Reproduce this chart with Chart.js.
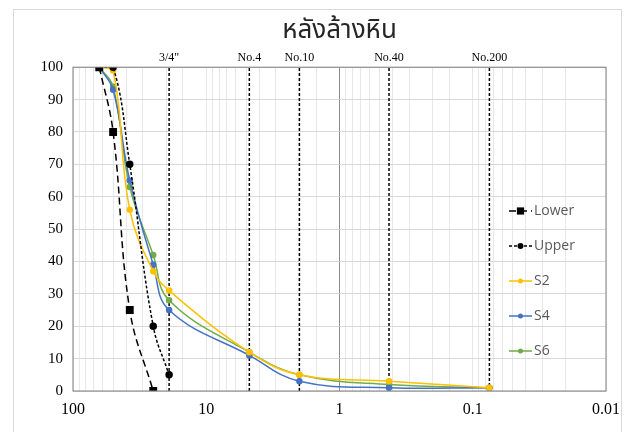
<!DOCTYPE html>
<html>
<head>
<meta charset="utf-8">
<script src="https://cdn.jsdelivr.net/npm/chart.js@4/dist/chart.umd.min.js"></script>
<style>
  html, body { margin: 0; padding: 0; background: #fff; }
  #wrap { width: 629px; height: 432px; }
</style>
</head>
<body>
<div id="wrap"><canvas id="chart" width="629" height="432"></canvas></div>
<script>
// sieve sizes (mm) used by the sample curves
const sizes = [63.5, 50, 37.5, 25, 19, 4.75, 2.0, 0.425, 0.075];
const s2 = [100, 99, 56, 37, 31, 12, 5, 3, 1];
const s4 = [100, 93, 65, 39, 25, 11, 3, 1, 1];
const s6 = [100, 94, 63, 42, 28, 12, 5, 2, 1];

// spec limits
const lowerSizes = [63.5, 50, 37.5, 25];
const lowerVals = [100, 80, 25, 0];
const upperSizes = [63.5, 50, 37.5, 25, 19];
const upperVals = [100, 100, 70, 20, 5];

// marker lines for standard sieves
const sieveMarks = [19, 4.75, 2.0, 0.425, 0.075];
const sieveNames = ['3/4"', 'No.4', 'No.10', 'No.40', 'No.200'];

const xTickValues = [100, 10, 1, 0.1, 0.01];
const xTickLabels = ['100', '10', '1', '0.1', '0.01'];

const toPts = (xs, ys) => xs.map((x, i) => ({ x: x, y: ys[i] }));

const datasets = [
  {
    label: 'Lower', data: toPts(lowerSizes, lowerVals),
    borderColor: '#000', backgroundColor: '#000', borderWidth: 1.5, borderDash: [7, 4],
    pointStyle: 'rect', pointRadius: 4.5, tension: 0.4
  },
  {
    label: 'Upper', data: toPts(upperSizes, upperVals),
    borderColor: '#000', backgroundColor: '#000', borderWidth: 1.5, borderDash: [3, 2],
    pointStyle: 'circle', pointRadius: 3, tension: 0.4
  },
  {
    label: 'S2', data: toPts(sizes, s2),
    borderColor: '#FFC000', backgroundColor: '#FFC000', borderWidth: 1.5,
    pointRadius: 2.5, tension: 0.4
  },
  {
    label: 'S4', data: toPts(sizes, s4),
    borderColor: '#4472C4', backgroundColor: '#4472C4', borderWidth: 1.5,
    pointRadius: 2.5, tension: 0.4
  },
  {
    label: 'S6', data: toPts(sizes, s6),
    borderColor: '#70AD47', backgroundColor: '#70AD47', borderWidth: 1.5,
    pointRadius: 2.5, tension: 0.4
  }
];

sieveMarks.forEach(s => {
  datasets.push({
    label: '', isMark: true, data: [{ x: s, y: 0 }, { x: s, y: 100 }],
    borderColor: '#000', borderWidth: 1.5, borderDash: [3, 2], pointRadius: 0, tension: 0
  });
});

const framePlugin = {
  id: 'frame',
  beforeDraw(chart) {
    const c = chart.ctx;
    c.save();
    c.strokeStyle = '#d9d9d9';
    c.lineWidth = 1;
    c.strokeRect(13.5, 9.5, 608, 430);
    c.restore();
  },
  afterDraw(chart) {
    const c = chart.ctx, a = chart.chartArea;
    c.save();
    c.strokeStyle = '#7f7f7f';
    c.lineWidth = 1;
    c.strokeRect(a.left, a.top, a.right - a.left, a.bottom - a.top);

    // sieve names above the plot
    const xs = chart.scales.x;
    c.fillStyle = '#000';
    c.font = '12px "Liberation Serif", serif';
    c.textAlign = 'center';
    c.textBaseline = 'middle';
    sieveMarks.forEach((s, i) => c.fillText(sieveNames[i], xs.getPixelForValue(s), a.top - 9));

    // legend inside the plot
    c.font = '14px "Open Sans", sans-serif';
    c.textAlign = 'left';
    chart.data.datasets.filter(d => !d.isMark).forEach((d, i) => {
      const y = 211 + i * 35;
      c.strokeStyle = d.borderColor;
      c.lineWidth = d.borderWidth;
      c.setLineDash(d.borderDash || []);
      c.beginPath();
      c.moveTo(509, y);
      c.lineTo(532, y);
      c.stroke();
      c.setLineDash([]);
      c.fillStyle = d.backgroundColor;
      const r = d.pointRadius;
      if (d.pointStyle === 'rect') {
        c.fillRect(520.5 - r * 0.8, y - r * 0.8, r * 1.6, r * 1.6);
      } else {
        c.beginPath();
        c.arc(520.5, y, r, 0, Math.PI * 2);
        c.fill();
      }
      c.fillStyle = '#595959';
      c.fillText(d.label, 534, y);
    });
    c.restore();
  }
};

new Chart(document.getElementById('chart'), {
  type: 'line',
  data: { datasets: datasets },
  options: {
    responsive: false,
    animation: false,
    layout: { padding: { left: 0, right: 20, top: 0, bottom: 0 } },
    plugins: {
      legend: { display: false },
      tooltip: { enabled: false },
      title: {
        display: true,
        fullSize: false,
        text: 'หลังล้างหิน',
        color: '#262626',
        font: { family: '"Noto Sans Thai", Tahoma, "Noto Sans", sans-serif', size: 26, weight: 'normal' },
        padding: { top: 17, bottom: 19 }
      }
    },
    scales: {
      x: {
        type: 'logarithmic',
        reverse: true,
        min: 0.01,
        max: 100,
        afterFit: s => { s.height = 41; },
        border: { display: false },
        grid: {
          drawTicks: false,
          color: ctx => (ctx.tick && ctx.tick.value === 1) ? '#8c8c8c' : '#e8e8e8'
        },
        ticks: {
          autoSkip: false,
          maxRotation: 0,
          padding: 9,
          color: '#000',
          font: { family: '"Liberation Serif", serif', size: 16 },
          callback: v => {
            const i = xTickValues.findIndex(t => Math.abs(t - v) < t * 1e-6);
            return i >= 0 ? xTickLabels[i] : '';
          }
        }
      },
      y: {
        min: 0,
        max: 100,
        afterFit: s => { s.width = 73; },
        border: { display: false },
        grid: { drawTicks: false, color: '#d9d9d9' },
        ticks: {
          stepSize: 10,
          padding: 10,
          color: '#000',
          font: { family: '"Liberation Serif", serif', size: 15 }
        }
      }
    }
  },
  plugins: [framePlugin]
});
</script>
</body>
</html>
